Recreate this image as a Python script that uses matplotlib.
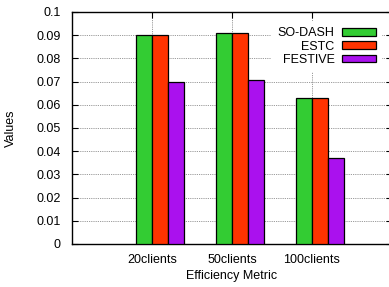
import matplotlib
matplotlib.use("Agg")
import matplotlib.pyplot as plt
import matplotlib.patches as mpatches
import numpy as np

categories = ["20clients", "50clients", "100clients"]
series_names = ["SO-DASH", "ESTC", "FESTIVE"]
so_dash = [0.090, 0.091, 0.063]
estc = [0.090, 0.091, 0.063]
festive = [0.070, 0.0705, 0.037]
colors = ["#33cc33", "#ff3300", "#aa11ee"]
yticks = [0, 0.01, 0.02, 0.03, 0.04, 0.05, 0.06, 0.07, 0.08, 0.09, 0.1]
ytick_labels = ["0", "0.01", "0.02", "0.03", "0.04", "0.05", "0.06", "0.07", "0.08", "0.09", "0.1"]

plt.rcParams['font.family'] = ['Liberation Sans', 'DejaVu Sans']

W, H = 389, 287
fig = plt.figure(figsize=(W / 100, H / 100), dpi=100)
left, right, top, bottom = 72, 392, 12, 244
ax = fig.add_axes([left / W, 1 - bottom / H, (right - left) / W, (bottom - top) / H])

x = np.arange(1, len(categories) + 1)
width = 0.2
offsets = [-0.1, 0.1, 0.3]
for vals, off, c in zip([so_dash, estc, festive], offsets, colors):
    ax.bar(x + off, vals, width, color=c, edgecolor="black", linewidth=0.9, zorder=3)

fs = 9
ax.set_xlim(0, 4)
ax.set_ylim(0, 0.1)
ax.set_xticks(x)
ax.set_xticklabels(categories, fontsize=fs)
ax.set_yticks(yticks)
ax.set_yticklabels(ytick_labels, fontsize=fs)
ax.grid(True, linestyle=(0, (1, 1.2)), color="#777777", linewidth=0.6, zorder=0)
ax.set_axisbelow(True)
ax.tick_params(direction="in", length=4, width=0.8, top=True, right=True)
ax.tick_params(axis="y", pad=8)
ax.tick_params(axis="x", pad=7)
for s in ax.spines.values():
    s.set_linewidth(1.0)

ax.set_xlabel("Efficiency Metric", fontsize=fs, labelpad=3)
ax.set_ylabel("Values", fontsize=fs, labelpad=14)

handles = [mpatches.Patch(facecolor=c, edgecolor="black", linewidth=0.9) for c in colors]
leg = ax.legend(handles, series_names, loc="upper right",
                bbox_to_anchor=(382 / W, 1 - 21 / H), bbox_transform=fig.transFigure,
                markerfirst=False, fontsize=fs, frameon=True, fancybox=False,
                edgecolor="none", facecolor="white", framealpha=1.0,
                handlelength=2.7, handleheight=0.55, handletextpad=0.6,
                labelspacing=0.1, borderpad=0.5, borderaxespad=0)
leg.set_zorder(5)

fig.savefig("out.png", dpi=100)
